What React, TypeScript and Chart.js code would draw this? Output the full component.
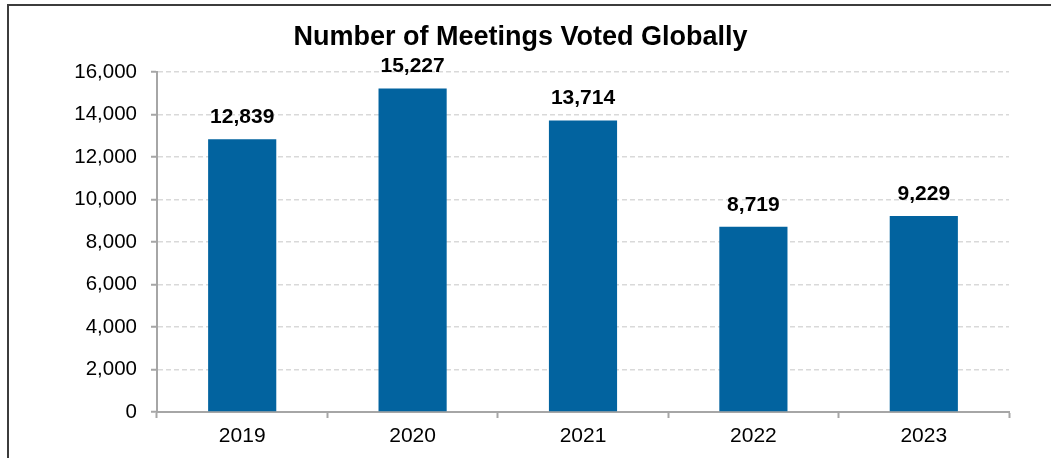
import React, { useEffect, useRef } from "react";
import { Chart, registerables } from "chart.js";

Chart.register(...registerables);

const categories: string[] = ["2019", "2020", "2021", "2022", "2023"];
const meetings: number[] = [12839, 15227, 13714, 8719, 9229];
const yTicks: number[] = [0, 2000, 4000, 6000, 8000, 10000, 12000, 14000, 16000];
const chartTitle = "Number of Meetings Voted Globally";

const FONT = "'Liberation Sans', Arial, sans-serif";
const BAR_COLOR = "#02639f";

const fmt = (v: number) => v.toLocaleString("en-US");

const valueLabels = {
  id: "valueLabels",
  afterDatasetsDraw(chart: any) {
    const ctx = chart.ctx;
    const meta = chart.getDatasetMeta(0);
    const data = chart.data.datasets[0].data as number[];
    ctx.save();
    ctx.font = `bold 21px ${FONT}`;
    ctx.fillStyle = "#000000";
    ctx.textAlign = "center";
    ctx.textBaseline = "middle";
    meta.data.forEach((el: any, i: number) => {
      ctx.fillText(fmt(data[i]), el.x, el.y - 22);
    });
    ctx.restore();
  },
};

export default function App() {
  const ref = useRef<HTMLCanvasElement | null>(null);

  useEffect(() => {
    if (!ref.current) return;
    const chart = new Chart(ref.current, {
      type: "bar",
      data: {
        labels: categories,
        datasets: [
          {
            data: meetings,
            backgroundColor: BAR_COLOR,
            borderWidth: 0,
            barPercentage: 0.4,
            categoryPercentage: 1,
          },
        ],
      },
      options: {
        animation: false,
        responsive: false,
        maintainAspectRatio: false,
        layout: { padding: { left: 32, right: 42, top: 0, bottom: 0 } },
        plugins: {
          legend: { display: false },
          tooltip: { enabled: false },
          title: {
            display: true,
            text: chartTitle,
            color: "#000000",
            font: { family: FONT, size: 27, weight: "bold", lineHeight: 1.2 },
            padding: { top: 21.8, bottom: 17.8 },
          },
        },
        scales: {
          x: {
            grid: {
              display: true,
              drawOnChartArea: false,
              drawTicks: true,
              tickLength: 6,
              offset: true,
              color: "#a6a6a6",
              tickColor: "#a6a6a6",
              tickWidth: 2,
            },
            border: { display: true, color: "#a6a6a6", width: 2 },
            ticks: {
              color: "#000000",
              padding: 6,
              font: { family: FONT, size: 21, lineHeight: 1.2 },
            },
            afterFit: (scale: any) => {
              scale.height = 46;
            },
          },
          y: {
            min: 0,
            max: 16000,
            afterBuildTicks: (scale: any) => {
              scale.ticks = yTicks.map((v) => ({ value: v }));
            },
            grid: {
              display: true,
              drawOnChartArea: true,
              drawTicks: true,
              tickLength: 6,
              color: "#d9d9d9",
              lineWidth: 1.5,
              tickColor: "#a6a6a6",
              tickWidth: 2,
              tickBorderDash: [1, 0],
            },
            border: { display: true, color: "#a6a6a6", width: 2, dash: [5, 3] },
            ticks: {
              color: "#000000",
              padding: 14,
              font: { family: FONT, size: 20.5, lineHeight: 1.2 },
              callback: (v: any) => fmt(Number(v)),
            },
            afterFit: (scale: any) => {
              scale.width = 125;
            },
          },
        },
      },
      plugins: [valueLabels],
    } as any);
    return () => chart.destroy();
  }, []);

  return (
    <div style={{ position: "absolute", left: 0, top: 0, width: 1051, height: 458, background: "#ffffff", overflow: "hidden" }}>
      <div
        style={{
          position: "absolute",
          left: 7,
          top: 4,
          width: 1100,
          height: 500,
          borderTop: "2px solid #3c3c3c",
          borderLeft: "2px solid #3c3c3c",
        }}
      />
      <canvas ref={ref} width={1051} height={458} style={{ position: "absolute", left: 0, top: 0, width: 1051, height: 458 }} />
    </div>
  );
}
